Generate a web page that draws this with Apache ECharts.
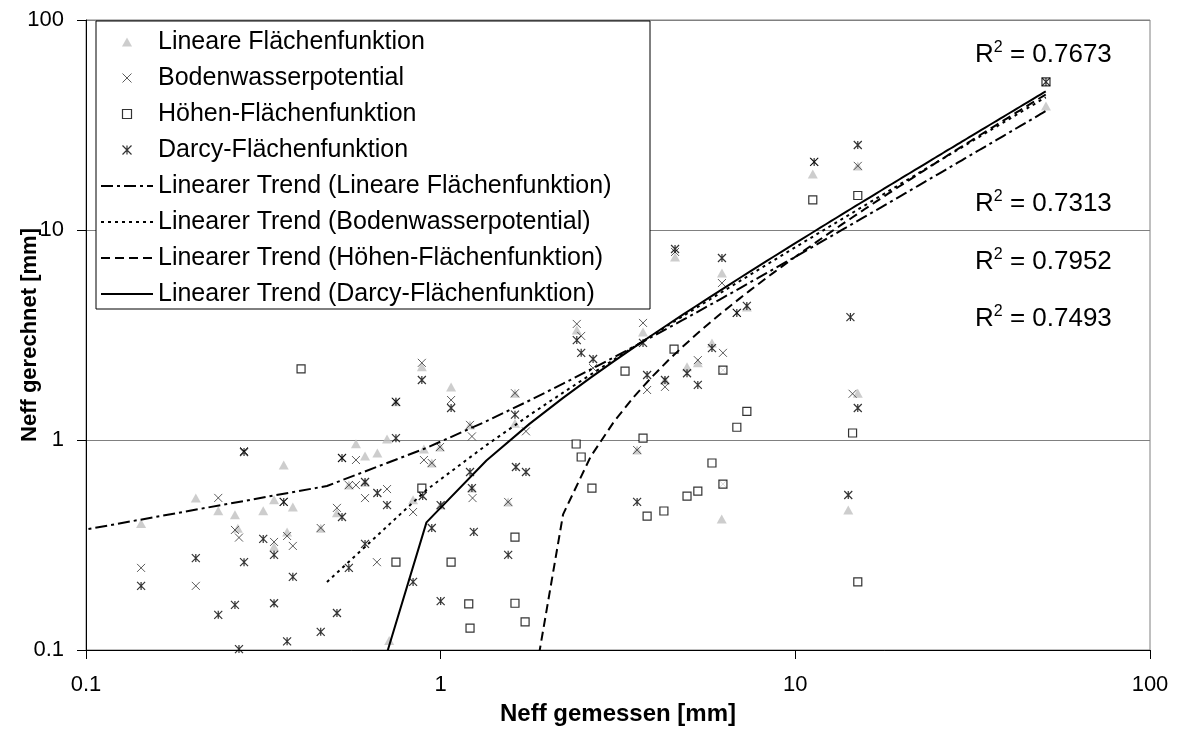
<!DOCTYPE html>
<html>
<head>
<meta charset="utf-8">
<script src="https://cdn.jsdelivr.net/npm/echarts@6/dist/echarts.min.js"></script>
<style>
html,body{margin:0;padding:0;background:#fff;}
#chart{width:1178px;height:731px;}
</style>
</head>
<body>
<div id="chart"></div>
<script>
// ---------- DATA ----------
const seriesNames = ['Lineare Flächenfunktion', 'Bodenwasserpotential', 'Höhen-Flächenfunktion', 'Darcy-Flächenfunktion'];
const trendNames = ['Linearer Trend (Lineare Flächenfunktion)', 'Linearer Trend (Bodenwasserpotential)', 'Linearer Trend (Höhen-Flächenfunktion)', 'Linearer Trend (Darcy-Flächenfunktion)'];

// Lineare Flächenfunktion (grey triangles)
const linX = [0.143,0.204,0.236,0.263,0.268,0.316,0.339,0.339,0.361,0.369,0.383,0.459,0.51,0.551,0.577,0.612,0.612,0.663,0.706,0.716,0.748,0.836,0.885,0.897,0.944,0.996,1.0,1.07,1.21,1.225,1.55,1.62,1.62,2.42,3.58,3.72,4.29,4.58,4.95,5.31,5.82,6.2,6.21,7.3,11.2,14.1,15.0,15.0,50.9];
const linY = [0.40,0.53,0.46,0.44,0.38,0.46,0.52,0.31,0.76,0.365,0.48,0.38,0.45,0.61,0.96,0.84,0.63,0.867,1.01,0.111,1.52,0.52,2.23,0.906,0.777,0.926,0.49,1.79,1.18,0.59,0.507,1.67,1.2,3.34,0.896,3.27,1.93,7.44,2.23,2.33,2.90,0.42,6.24,4.30,18.5,0.464,1.67,20.2,38.9];

// Bodenwasserpotential (crosses)
const bodX = [0.143,0.204,0.236,0.263,0.270,0.279,0.339,0.361,0.369,0.383,0.459,0.51,0.527,0.551,0.577,0.577,0.612,0.661,0.706,0.748,0.836,0.885,0.897,0.944,0.996,1.07,1.21,1.225,1.23,1.55,1.62,1.74,2.42,2.49,2.69,3.58,3.72,3.82,4.29,4.58,5.31,6.21,6.25,6.25,6.25,6.84,11.3,14.5,15.0,50.9];
const bodY = [0.246,0.202,0.53,0.373,0.343,0.886,0.327,0.507,0.349,0.313,0.381,0.475,0.821,0.61,0.61,0.803,0.529,0.262,0.584,1.52,0.454,2.33,0.803,0.777,0.926,1.55,1.18,1.04,0.529,0.507,1.67,1.10,3.57,3.13,2.20,0.896,3.61,1.73,1.79,7.86,2.40,5.59,2.60,2.15,0.617,4.03,21.1,1.66,20.2,50.7];

// Höhen-Flächenfunktion (open squares)
const hoeX = [0.404,0.748,0.885,1.07,1.2,1.21,1.62,1.62,1.73,2.41,2.49,2.67,3.31,3.72,3.82,4.26,4.55,4.95,5.31,5.82,6.25,6.25,6.84,7.30,11.2,14.5,15.0,15.0,50.9];
const hoeY = [2.18,0.262,0.59,0.262,0.166,0.127,0.345,0.167,0.136,0.957,0.83,0.59,2.13,1.02,0.434,0.459,2.71,0.541,0.571,0.777,0.617,2.15,1.15,1.37,13.9,1.08,14.6,0.211,50.7];

// Darcy-Flächenfunktion (asterisks)
const darX = [0.143,0.204,0.236,0.263,0.270,0.279,0.279,0.316,0.339,0.339,0.361,0.369,0.383,0.459,0.51,0.527,0.527,0.551,0.612,0.612,0.663,0.706,0.748,0.748,0.836,0.885,0.89,0.944,1.0,1.0,1.07,1.21,1.225,1.24,1.55,1.62,1.63,1.74,2.42,2.49,2.69,3.58,3.72,3.82,4.29,4.58,4.95,5.31,5.82,6.21,6.84,7.30,11.3,14.1,14.3,15.0,15.0,50.9];
const darY = [0.202,0.274,0.147,0.164,0.101,0.877,0.262,0.338,0.284,0.167,0.507,0.110,0.223,0.122,0.15,0.821,0.43,0.246,0.631,0.32,0.559,0.49,1.02,1.52,0.211,1.93,0.541,0.381,0.49,0.171,1.42,0.704,0.59,0.365,0.284,1.32,0.744,0.704,2.99,2.60,2.43,0.507,2.90,2.04,1.93,8.12,2.08,1.83,2.74,7.36,4.03,4.35,21.1,0.547,3.85,25.4,1.42,50.7];

// Linear trend lines y = slope * x + intercept
const trendSlope = [0.72, 0.847, 0.90, 0.908];
const trendIntercept = [0.26, -0.194, -1.55, -0.423];
const trendXStart = 0.044, trendXStep = 0.434, trendXEnd = 50.9;

const r2Values = ['0.7673', '0.7313', '0.7952', '0.7493'];
const xTickLabels = ['0.1', '1', '10', '100'];
const yTickLabels = ['0.1', '1', '10', '100'];

// ---------- CHART ----------
const FONT = '"Liberation Sans", Arial, sans-serif';
function pairs(xs, ys) { return xs.map((x, i) => [x, ys[i]]); }
function trendPoints(a, b) {
  const pts = [];
  for (let k = 0; ; k++) {
    let x = trendXStart + k * trendXStep;
    if (x > trendXEnd) x = trendXEnd;
    const y = a * x + b;
    if (y > 0) pts.push([x, y]);
    if (x >= trendXEnd) break;
  }
  return pts;
}
function tickFmt(labels) {
  return v => labels[Math.round(Math.log10(v)) + 1] || '';
}

const triPath = 'path://M5,0L10,9L0,9Z';
const crossPath = 'path://M0,0L10,10M10,0L0,10';
const squarePath = 'path://M0,0L10,0L10,10L0,10Z';
const starPath = 'path://M0,0L10,10M10,0L0,10M5,0L5,10';
const dashTypes = [[12, 4, 3, 4], [3, 4], [9, 5], 'solid'];

const chart = echarts.init(document.getElementById('chart'), null, {renderer: 'canvas'});

const scatterStyles = [
  {symbol: triPath, symbolSize: [10, 9], itemStyle: {color: '#c0c0c0'}},
  {symbol: crossPath, symbolSize: 8, itemStyle: {color: 'rgba(0,0,0,0)', borderColor: '#333', borderWidth: 1}},
  {symbol: squarePath, symbolSize: 8, itemStyle: {color: '#fff', borderColor: '#000', borderWidth: 1.2}},
  {symbol: starPath, symbolSize: 8, itemStyle: {color: 'rgba(0,0,0,0)', borderColor: '#000', borderWidth: 1.2}}
];
const scatterData = [pairs(linX, linY), pairs(bodX, bodY), pairs(hoeX, hoeY), pairs(darX, darY)];

const series = [];
seriesNames.forEach((n, i) => {
  series.push(Object.assign({name: n, type: 'scatter', data: scatterData[i], z: 2}, scatterStyles[i]));
});
trendNames.forEach((n, i) => {
  series.push({
    name: n, type: 'line', data: trendPoints(trendSlope[i], trendIntercept[i]),
    symbol: 'none', showSymbol: false, clip: true, silent: true, z: 3,
    lineStyle: {color: '#000', width: 2, type: dashTypes[i]},
    itemStyle: {color: '#000'}
  });
});

const legendData = seriesNames.map((n, i) => ({
  name: n, icon: scatterStyles[i].symbol, itemStyle: scatterStyles[i].itemStyle
})).concat(trendNames.map((n, i) => ({
  name: n, itemStyle: {opacity: 0}, lineStyle: {color: '#000', width: 2, type: dashTypes[i]}
})));

const r2Tops = [40, 189, 247, 304];
const graphic = r2Values.map((v, i) => ({
  type: 'text', left: 975, top: r2Tops[i], z: 10,
  style: {
    text: '{r|R}{s|2}{r| = ' + v + '}',
    rich: {
      r: {fontSize: 26, fontFamily: FONT, lineHeight: 29, fill: '#000', color: '#000'},
      s: {fontSize: 16, fontFamily: FONT, lineHeight: 16, verticalAlign: 'top', fill: '#000', color: '#000'}
    }
  }
}));

chart.setOption({
  animation: false,
  backgroundColor: '#fff',
  textStyle: {fontFamily: FONT},
  grid: {left: 86, right: 28, top: 20, bottom: 81, show: true, borderColor: '#808080', borderWidth: 1,
         containLabel: false, outerBoundsMode: 'none'},
  xAxis: {
    type: 'log', logBase: 10, min: 0.1, max: 100,
    axisLine: {show: true, lineStyle: {color: '#000', width: 1}},
    axisTick: {show: true, inside: false, length: 9, lineStyle: {color: '#000'}},
    minorTick: {show: false},
    splitLine: {show: false},
    axisLabel: {fontSize: 22, color: '#000', margin: 24, fontFamily: FONT, formatter: tickFmt(xTickLabels)},
    name: 'Neff gemessen [mm]', nameLocation: 'middle', nameGap: 52, nameMoveOverlap: false,
    nameTextStyle: {fontSize: 24, fontWeight: 'bold', color: '#000', fontFamily: FONT}
  },
  yAxis: {
    type: 'log', logBase: 10, min: 0.1, max: 100,
    axisLine: {show: true, lineStyle: {color: '#000', width: 1}},
    axisTick: {show: true, inside: false, length: 9, lineStyle: {color: '#000'}},
    minorTick: {show: false},
    splitLine: {show: true, lineStyle: {color: '#808080', width: 1}},
    axisLabel: {fontSize: 22, color: '#000', margin: 22, fontFamily: FONT, formatter: tickFmt(yTickLabels)},
    name: 'Neff gerechnet [mm]', nameLocation: 'middle', nameGap: 45, nameRotate: 90, nameMoveOverlap: false,
    nameTextStyle: {fontSize: 22, fontWeight: 'bold', color: '#000', fontFamily: FONT}
  },
  legend: {
    orient: 'vertical', left: 96, top: 21, z: 10,
    padding: [8, 6, 2, 4], itemGap: 10, itemWidth: 52, itemHeight: 9,
    borderColor: '#000', borderWidth: 1, backgroundColor: '#fff',
    selectedMode: false, symbolKeepAspect: true,
    textStyle: {fontSize: 25, color: '#000', lineHeight: 26, fontFamily: FONT, width: 486},
    data: legendData
  },
  graphic: graphic,
  series: series
});
</script>
</body>
</html>
